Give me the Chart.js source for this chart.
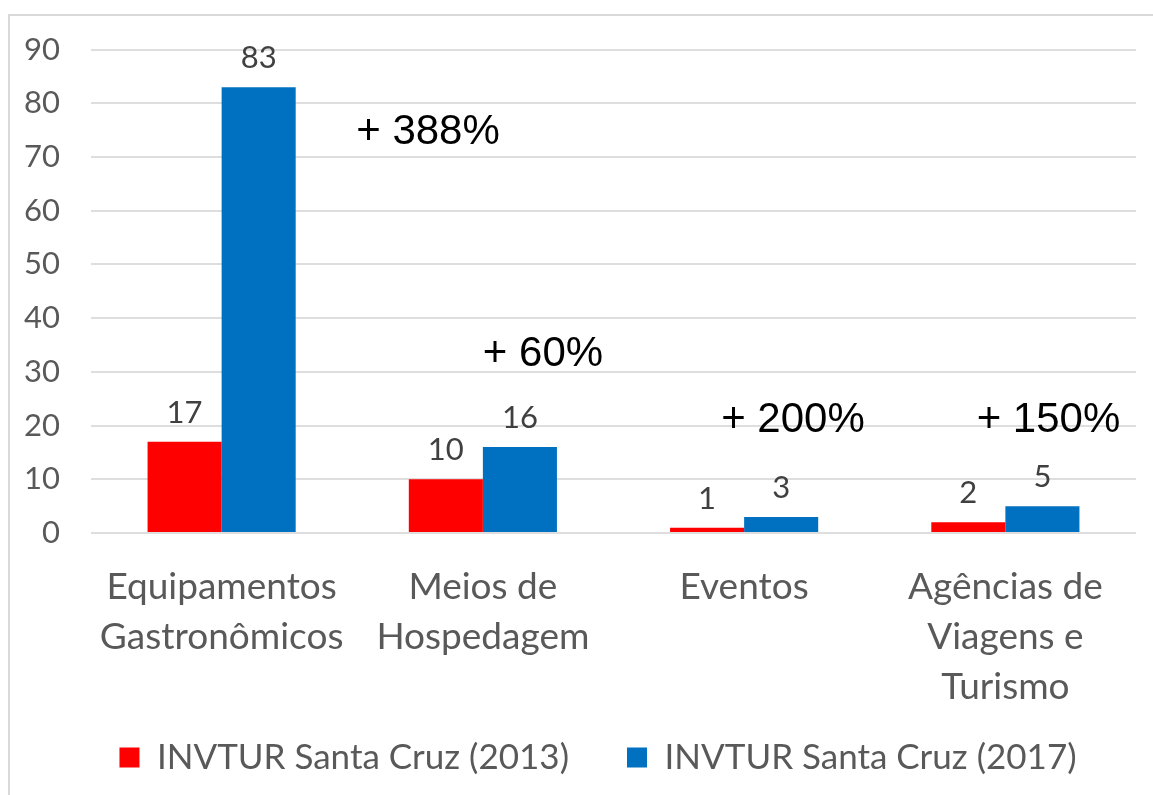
<!DOCTYPE html>
<html>
<head>
<meta charset="utf-8">
<script src="https://cdn.jsdelivr.net/npm/chart.js@4"></script>
<style>
html,body{margin:0;padding:0;background:#fff;}
canvas{display:block;}
</style>
</head>
<body>
<canvas id="c" width="1153" height="795"></canvas>
<script>
// ---- data ----
const categories = [
  ["Equipamentos", "Gastronômicos"],
  ["Meios de", "Hospedagem"],
  ["Eventos"],
  ["Agências de", "Viagens e", "Turismo"]
];
const seriesNames = ["INVTUR Santa Cruz (2013)", "INVTUR Santa Cruz (2017)"];
const values2013 = [17, 10, 1, 2];
const values2017 = [83, 16, 3, 5];
const growthLabels = ["+ 388%", "+ 60%", "+ 200%", "+ 150%"];
const yTicksMin = 0, yTicksMax = 90, yTicksStep = 10;

// ---- annotation placement (category index, offset in category widths, y value) ----
const growthPlacement = [
  {cat: 0, dx: 0.790, y: 74.5},
  {cat: 1, dx: 0.230, y: 33.2},
  {cat: 2, dx: 0.187, y: 21.0},
  {cat: 3, dx: 0.165, y: 21.0}
];

const GRAY = '#595959';

const frame = {
  id: 'frame',
  beforeDraw(chart) {
    const ctx = chart.ctx;
    ctx.save();
    ctx.fillStyle = '#ffffff';
    ctx.fillRect(0, 0, chart.width, chart.height);
    ctx.strokeStyle = '#d9d9d9';
    ctx.lineWidth = 2;
    ctx.strokeRect(9, 15, chart.width + 50, chart.height + 50);
    ctx.restore();
  }
};

// shift legend centring to match the original layout
const legendShift = {
  id: 'legendShift',
  afterLayout(chart) {
    if (chart.legend) chart.legend.left = 60;
  }
};

const valueLabels = {
  id: 'valueLabels',
  afterDatasetsDraw(chart) {
    const ctx = chart.ctx;
    ctx.save();
    ctx.font = '31px Lato';
    ctx.fillStyle = '#404040';
    ctx.textAlign = 'center';
    ctx.textBaseline = 'middle';
    chart.data.datasets.forEach((ds, di) => {
      const meta = chart.getDatasetMeta(di);
      meta.data.forEach((bar, i) => {
        ctx.fillText(String(ds.data[i]), bar.x, bar.y - 29);
      });
    });
    ctx.restore();
  }
};

const growthText = {
  id: 'growthText',
  afterDatasetsDraw(chart) {
    const ctx = chart.ctx;
    const xs = chart.scales.x, ys = chart.scales.y;
    const catW = (xs.right - xs.left) / categories.length;
    ctx.save();
    ctx.font = '42px "Liberation Sans"';
    ctx.fillStyle = '#000000';
    ctx.textAlign = 'center';
    ctx.textBaseline = 'middle';
    growthPlacement.forEach((p, i) => {
      const x = xs.getPixelForValue(p.cat) + p.dx * catW;
      const y = ys.getPixelForValue(p.y);
      ctx.fillText(growthLabels[i], x, y);
    });
    ctx.restore();
  }
};

new Chart(document.getElementById('c'), {
  type: 'bar',
  data: {
    labels: categories,
    datasets: [
      {label: seriesNames[0], data: values2013, backgroundColor: '#FF0000', borderWidth: 0},
      {label: seriesNames[1], data: values2017, backgroundColor: '#0070C0', borderWidth: 0}
    ]
  },
  options: {
    responsive: false,
    animation: false,
    layout: {padding: {left: 9, right: 17, top: 49, bottom: 10}},
    datasets: {bar: {categoryPercentage: 0.567, barPercentage: 1.0}},
    plugins: {
      tooltip: {enabled: false},
      title: {display: false},
      legend: {
        position: 'bottom',
        align: 'center',
        labels: {
          boxWidth: 20,
          boxHeight: 20,
          padding: 58,
          color: GRAY,
          font: {family: 'Lato', size: 35}
        }
      }
    },
    scales: {
      x: {
        grid: {display: false, drawTicks: false},
        border: {display: false},
        ticks: {
          color: GRAY,
          font: {family: 'Lato', size: 37, lineHeight: 1.35},
          mirror: true,
          padding: -79,
          maxRotation: 0,
          autoSkip: false
        },
        afterFit(scale) { scale.height = 149; }
      },
      y: {
        min: yTicksMin,
        max: yTicksMax,
        grid: {color: '#dedede', lineWidth: 2, drawTicks: false},
        border: {display: false},
        ticks: {
          stepSize: yTicksStep,
          color: GRAY,
          font: {family: 'Lato', size: 31},
          padding: 31
        },
        afterFit(scale) { scale.width = 82; }
      }
    }
  },
  plugins: [frame, legendShift, valueLabels, growthText]
});
</script>
</body>
</html>
